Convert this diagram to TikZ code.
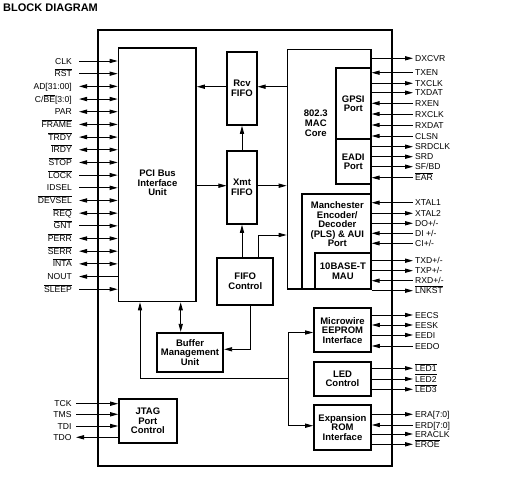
\documentclass[tikz,border=0pt]{standalone}
\usepackage{fontspec}
\setmainfont{Liberation Sans}
\usetikzlibrary{arrows.meta}
\newcommand\ovl[1]{\ensuremath{\overline{\mbox{#1}}}}
\begin{document}
\begin{tikzpicture}[x=1pt,y=-1pt,
  >={Triangle[length=8pt,width=4.2pt]},
  blk/.style={draw,line width=1.7pt,inner sep=0pt,align=center,font=\fontsize{9.5}{9.6}\selectfont\bfseries},
  btxt/.style={inner sep=0pt,align=center,font=\fontsize{9.5}{9.6}\selectfont\bfseries},
  wire/.style={line width=0.9pt},
  pinl/.style={anchor=east,inner xsep=7pt,inner ysep=0pt,text height=6.1pt,text depth=0pt,font=\fontsize{8.6}{9}\selectfont},
  pinj/.style={anchor=east,inner xsep=4.3pt,inner ysep=0pt,text height=6.1pt,text depth=0pt,font=\fontsize{8.6}{9}\selectfont},
  pinr/.style={anchor=west,inner xsep=2pt,inner ysep=0pt,text height=6.1pt,text depth=0pt,font=\fontsize{8.6}{9}\selectfont},
  arE/.style={wire,->}, arS/.style={wire,<-}, arB/.style={wire,<->}]
\useasboundingbox (0,0) rectangle (509,494);

\node[anchor=base west,inner sep=0pt,font=\fontsize{11}{12}\selectfont\bfseries] (title) at (3,12) {BLOCK DIAGRAM};

% chip outline
\node[blk,minimum width=294pt,minimum height=436pt] (chip) at (245,248) {};

% blocks
\node[blk,minimum width=77.5pt,minimum height=253.5pt] (pci) at (157.25,174.75) {};
\node[btxt] (pcit) at (157.5,183) {PCI Bus\\Interface\\Unit};
\node[blk,minimum width=29.4pt,minimum height=73.3pt] (rcv) at (242,88.35) {Rcv\\FIFO};
\node[blk,minimum width=29.4pt,minimum height=73.3pt] (xmt) at (242,187.35) {Xmt\\FIFO};
\node[blk,minimum width=83.3pt,minimum height=239.5pt] (mac) at (329.15,169.25) {};
\node[btxt] (mact) at (315.8,123.3) {802.3\\MAC\\Core};
\node[blk,minimum width=35.1pt,minimum height=71pt] (gpsi) at (353.25,103.8) {GPSI\\Port};
\node[blk,minimum width=35.1pt,minimum height=44.7pt] (eadi) at (353.25,161.65) {EADI\\Port};
\node[blk,minimum width=69.1pt,minimum height=94.7pt] (manch) at (336.25,241.65) {};
\node[btxt] (mancht) at (337.3,224.3) {Manchester\\Encoder/\\Decoder\\(PLS) \& AUI\\Port};
\node[blk,minimum width=55.8pt,minimum height=35.7pt] (mau) at (342.9,271.15) {10BASE-T\\MAU};
\node[blk,minimum width=56pt,minimum height=47pt] (fifoc) at (245.3,281.5) {FIFO\\Control};
\node[blk,minimum width=66.6pt,minimum height=39.6pt] (bmu) at (190,352.5) {Buffer\\Management\\Unit};
\node[blk,minimum width=57pt,minimum height=44pt] (mw) at (342.5,330.3) {Microwire\\EEPROM\\Interface};
\node[blk,minimum width=57pt,minimum height=34.3pt] (led) at (342.5,378.85) {LED\\Control};
\node[blk,minimum width=57pt,minimum height=45pt] (erom) at (342.5,427.5) {Expansion\\ROM\\Interface};
\node[blk,minimum width=57.7pt,minimum height=43.7pt] (jtag) at (147.85,420.85) {JTAG\\Port\\Control};

% internal connectors
\draw[arE] (rcv.west |- 0,86.7) -- (pci.east |- 0,86.7);
\draw[arE] (mac.west |- 0,86.7) -- (rcv.east |- 0,86.7);
\draw[arE] (xmt.north) -- (rcv.south);
\draw[arE] (pci.east |- 0,185.7) -- (xmt.west |- 0,185.7);
\draw[arE] (xmt.east |- 0,185.7) -- (mac.west |- 0,185.7);
\draw[arE] (fifoc.north -| xmt.south) -- (xmt.south);
\draw[arE] (fifoc.north -| 258.3,0) |- (mac.west |- 0,235);
\draw[arE] (fifoc.south -| 250,0) |- (bmu.east |- 0,349.3);
\draw[arB] (pci.south -| 180.7,0) -- (bmu.north -| 180.7,0);
\coordinate (jn) at (288.8,378.3);
\draw[arE] (jn) -| (pci.south -| 140,0);
\draw[arE] (jn) |- (mw.west |- 0,332.5);
\draw[arE] (jn) |- (erom.west |- 0,425.7);

% PCI pins
\foreach \t/\k [count=\i from 0] in {CLK/arE, \ovl{RST}/arE, AD[31:00]/arB, {C/\ovl{BE}[3:0]}/arB, PAR/arB, \ovl{FRAME}/arB, \ovl{TRDY}/arB, \ovl{IRDY}/arB, \ovl{STOP}/arB, \ovl{LOCK}/arE, IDSEL/arE, \ovl{DEVSEL}/arB, \ovl{REQ}/arB, \ovl{GNT}/arE, \ovl{PERR}/arB, \ovl{SERR}/arB, \ovl{INTA}/arB, NOUT/arS, \ovl{SLEEP}/arE}
{
  \node[pinl] (lp\i) at (79,61+12.68*\i) {\t};
  \draw[\k] (lp\i.east) -- (pci.west |- lp\i.east);
}

% JTAG pins
\foreach \yy/\t/\k [count=\i] in {403.7/TCK/arE, 414.3/TMS/arE, 426/TDI/arE, 437.3/TDO/arS}
{
  \node[pinj] (jp\i) at (76,\yy) {\t};
  \draw[\k] (jp\i.east) -- (jtag.west |- jp\i.east);
}

% right pins
\foreach \yy/\t/\k/\b [count=\i] in {58.3/DXCVR/arE/mac, 72.7/TXEN/arS/mac, 83.3/TXCLK/arE/mac, 92.7/TXDAT/arE/mac, 103.3/RXEN/arS/mac, 114/RXCLK/arS/mac, 125/RXDAT/arS/mac, 136/CLSN/arS/mac, 146.7/SRDCLK/arE/mac, 156.7/SRD/arE/mac, 166.7/{SF/BD}/arE/mac, 177.7/\ovl{EAR}/arS/mac, 202.7/XTAL1/arS/mac, 213.3/XTAL2/arE/mac, 223.3/{DO+/-}/arE/mac, 233.3/{DI +/-}/arS/mac, 243.3/{CI+/-}/arS/mac, 260.7/{TXD+/-}/arE/mac, 270.7/{TXP+/-}/arE/mac, 280.7/{RXD+/-}/arS/mac, 290.7/\ovl{LNKST}/arE/mac, 315/EECS/arE/mw, 325/EESK/arB/mw, 335/EEDI/arE/mw, 346/EEDO/arS/mw, 368.3/\ovl{LED1}/arE/led, 379/\ovl{LED2}/arE/led, 389.3/\ovl{LED3}/arE/led, 414.3/ERA[7:0]/arE/erom, 425/ERD[7:0]/arS/erom, 434/ERACLK/arE/erom, 444.3/\ovl{EROE}/arE/erom}
{
  \node[pinr] (rp\i) at (413,\yy) {\t};
  \draw[\k] (\b.east |- rp\i.west) -- (rp\i.west);
}
\end{tikzpicture}
\end{document}
